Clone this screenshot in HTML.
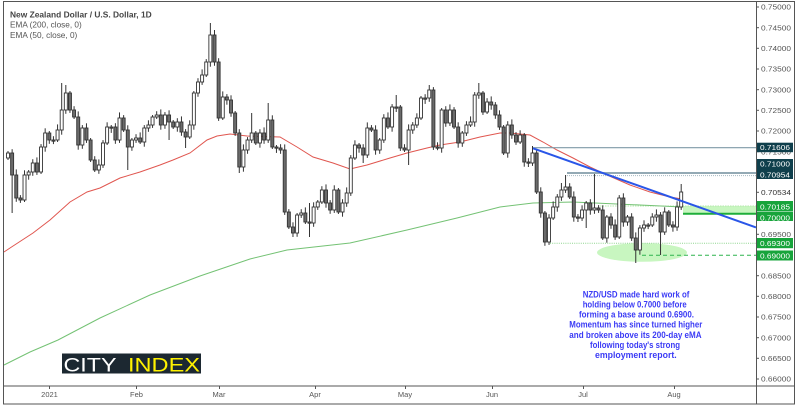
<!DOCTYPE html>
<html><head><meta charset="utf-8">
<style>
html,body{margin:0;padding:0;background:#fff;}
svg{display:block;font-family:"Liberation Sans",Arial,sans-serif;}
</style></head><body>
<svg id="c" width="799" height="409" viewBox="0 0 799 409" xmlns="http://www.w3.org/2000/svg">
<rect x="0" y="0" width="799" height="409" fill="#fff"/>

<!-- zones -->
<ellipse cx="642" cy="252.5" rx="45" ry="9.3" fill="#c8f6c0"/>
<rect x="683" y="206" width="73" height="7.7" fill="#c8f6c0"/>
<line x1="600" y1="206" x2="756" y2="206" stroke="#b4e8ac" stroke-width="1" stroke-dasharray="1.5 1"/>
<line x1="550" y1="243.3" x2="756" y2="243.3" stroke="#8fd68f" stroke-width="1" stroke-dasharray="1 1.2"/>
<line x1="642" y1="255.2" x2="756" y2="255.2" stroke="#2fb44f" stroke-width="1" stroke-dasharray="4 3"/>

<!-- EMAs -->
<polyline fill="none" stroke="#e0564f" stroke-width="1" points="4,252 10,248 33,233 50,220 70,202 87,192 100,188 120,178 140,172 160,165 173,160 190,153 207,140 217,136 230,134 247,136 280,137 297,147 313,157 333,163 350,169 367,165 390,158 407,153 427,148 440,145 460,142 480,137 500,133 510,133 530,135 543,142 557,150 573,158 590,167 607,175 630,185 650,192 670,197 682,199"/>
<polyline fill="none" stroke="#74c274" stroke-width="1" points="4,365 30,352 58,340 100,318 150,295 200,276 250,259 287,250 350,243 407,230 457,218 500,207 533,203 573,202 640,205 682,207"/>

<g id="candles"></g>

<!-- horizontal levels -->
<line x1="533" y1="147.7" x2="756" y2="147.7" stroke="#7f9aa7" stroke-width="1.2"/>
<line x1="567" y1="173" x2="756" y2="173" stroke="#93a9b4" stroke-width="2"/>
<line x1="567" y1="175.6" x2="756" y2="175.6" stroke="#a5b7c0" stroke-width="1" stroke-dasharray="1 1"/>
<line x1="683" y1="213.7" x2="756" y2="213.7" stroke="#1fae3a" stroke-width="2"/>
<!-- trendline -->
<line x1="533" y1="148.3" x2="756" y2="227.4" stroke="#2a56e8" stroke-width="2"/>

<!-- frame -->
<rect x="3.5" y="1.5" width="791" height="402.5" fill="none" stroke="#555" stroke-width="1"/>
<line x1="756.5" y1="1.5" x2="756.5" y2="404" stroke="#555" stroke-width="1"/>
<line x1="3.5" y1="386" x2="794.5" y2="386" stroke="#555" stroke-width="1"/>

<g id="yaxis" font-size="7.5" fill="#555"></g>

<!-- x axis -->
<g stroke="#555" stroke-width="1">
<line x1="49.5" y1="386" x2="49.5" y2="389"/>
<line x1="136.5" y1="386" x2="136.5" y2="389"/>
<line x1="219.5" y1="386" x2="219.5" y2="389"/>
<line x1="315.5" y1="386" x2="315.5" y2="389"/>
<line x1="405.5" y1="386" x2="405.5" y2="389"/>
<line x1="492.5" y1="386" x2="492.5" y2="389"/>
<line x1="583.5" y1="386" x2="583.5" y2="389"/>
<line x1="674.5" y1="386" x2="674.5" y2="389"/>
</g>
<g font-size="7.5" fill="#555" text-anchor="middle">
<text x="49.5" y="397">2021</text>
<text x="136.5" y="397">Feb</text>
<text x="219" y="397">Mar</text>
<text x="315" y="397">Apr</text>
<text x="405" y="397">May</text>
<text x="492" y="397">Jun</text>
<text x="583" y="397">Jul</text>
<text x="674" y="397">Aug</text>
</g>

<!-- price label boxes -->
<g>
<rect x="757" y="142.7" width="36" height="9.5" fill="#0f3f4c"/>
<rect x="757" y="159" width="36" height="10.5" fill="#0f3f4c"/>
<rect x="757" y="169.5" width="36" height="9.5" fill="#0f3f4c"/>
<rect x="757" y="201" width="36" height="10" fill="#17a43b"/>
<rect x="757" y="211.5" width="36" height="9.5" fill="#17a43b"/>
<rect x="757" y="238" width="36" height="10.2" fill="#17a43b"/>
<rect x="757" y="250.5" width="36" height="10" fill="#17a43b"/>
</g>
<g font-size="7.5" fill="#fff">
<text x="760" y="150.2" textLength="30" lengthAdjust="spacingAndGlyphs">0.71606</text>
<text x="760" y="166.7" textLength="30" lengthAdjust="spacingAndGlyphs">0.71000</text>
<text x="760" y="177.7" textLength="30" lengthAdjust="spacingAndGlyphs">0.70954</text>
<text x="760" y="209.4" textLength="30" lengthAdjust="spacingAndGlyphs">0.70185</text>
<text x="760" y="220.4" textLength="30" lengthAdjust="spacingAndGlyphs">0.70000</text>
<text x="760" y="246" textLength="30" lengthAdjust="spacingAndGlyphs">0.69300</text>
<text x="760" y="258.4" textLength="30" lengthAdjust="spacingAndGlyphs">0.69000</text>
</g>
<line x1="756" y1="192.3" x2="759" y2="192.3" stroke="#555"/>
<text x="761" y="195" font-size="7.5" fill="#333" textLength="30" lengthAdjust="spacingAndGlyphs">0.70534</text>

<!-- legend -->
<text x="10" y="17.3" font-size="8.5" font-weight="bold" fill="#444" textLength="141.7" lengthAdjust="spacingAndGlyphs">New Zealand Dollar / U.S. Dollar, 1D</text>
<text x="10" y="27.5" font-size="8.5" fill="#555" textLength="71.7" lengthAdjust="spacingAndGlyphs">EMA (200, close, 0)</text>
<text x="10" y="37.9" font-size="8.5" fill="#555" textLength="67.3" lengthAdjust="spacingAndGlyphs">EMA (50, close, 0)</text>

<!-- annotation -->
<g font-size="8.8" font-weight="bold" fill="#3b3bf5" lengthAdjust="spacingAndGlyphs">
<text x="582.7" y="297.4" textLength="106.7" lengthAdjust="spacingAndGlyphs">NZD/USD made hard work of</text>
<text x="582.7" y="307.5" textLength="104" lengthAdjust="spacingAndGlyphs">holding below 0.7000 before</text>
<text x="579" y="317.6" textLength="115" lengthAdjust="spacingAndGlyphs">forming a base around 0.6900.</text>
<text x="569.3" y="327.7" textLength="133" lengthAdjust="spacingAndGlyphs">Momentum has since turned higher</text>
<text x="569.3" y="337.8" textLength="132.3" lengthAdjust="spacingAndGlyphs">and broken above its 200-day eMA</text>
<text x="590" y="347.9" textLength="90" lengthAdjust="spacingAndGlyphs">following today's strong</text>
<text x="595" y="358" textLength="81.7" lengthAdjust="spacingAndGlyphs">employment report.</text>
</g>

<!-- logo -->
<rect x="62" y="353.5" width="139" height="20" fill="#1c2831"/>
<text x="63.5" y="371.5" font-size="19" fill="#ffffff" textLength="53" lengthAdjust="spacingAndGlyphs">CITY</text>
<text x="128" y="371.5" font-size="19" fill="#fff200" textLength="72" lengthAdjust="spacingAndGlyphs">INDEX</text>
</svg>
<script>
(function(){
var NS="http://www.w3.org/2000/svg";
var C=[153,175,198,200,175,172,163,172,147,133,140,140,130,110,93,110,117,145,128,140,160,170,165,143,127,127,140,118,130,147,140,138,142,128,125,117,115,125,115,122,127,122,132,137,125,93,82,75,62,35,62,118,97,100,113,133,167,150,140,133,143,133,140,120,147,148,150,212,227,233,215,213,222,223,207,202,190,203,210,190,212,203,193,158,145,148,155,128,130,150,140,118,127,107,107,148,150,130,125,118,98,98,90,147,148,110,123,110,127,143,133,125,122,95,93,112,102,105,115,127,153,125,135,142,135,162,163,153,192,213,242,218,207,197,190,187,197,217,218,210,203,210,208,210,238,217,225,237,198,222,217,238,250,228,225,225,217,215,232,212,225,227,207,192];
var H={1:[null,213],13:[83,null],14:[85,null],21:[null,172],29:[null,170],39:[null,140],43:[null,148],49:[23,null],50:[30,null],56:[null,173],59:[113,null],63:[103,null],69:[null,237],73:[203,237],86:[null,163],94:[95,null],97:[null,165],102:[85,null],114:[83,null],127:[146,null],134:[183,null],135:[175,null],140:[null,228],142:[172,null],152:[null,263],158:[null,255],163:[184,null]};
var g=document.getElementById("candles");
var s="";
for(var i=0;i<C.length;i++){
  var x=(8+i*4.13);
  var o=i===0?158:C[i-1], c=C[i];
  var top=Math.min(o,c), bot=Math.max(o,c);
  if(bot-top<1.2){bot=top+1.2;}
  var hi=top-(2+((i*7)%5)*0.9), lo=bot+(2+((i*3)%4)*0.9);
  if(H[i]){ if(H[i][0]!=null)hi=H[i][0]; if(H[i][1]!=null)lo=H[i][1]; }
  var up=c<o;
  s+='<line x1="'+x.toFixed(2)+'" y1="'+hi+'" x2="'+x.toFixed(2)+'" y2="'+lo+'" stroke="#333" stroke-width="1"/>';
  s+='<rect x="'+(x-1.5).toFixed(2)+'" y="'+top+'" width="3" height="'+(bot-top)+'" fill="'+(up?'#ffffff':'#6b6b6b')+'" stroke="#333" stroke-width="0.9"/>';
}
g.innerHTML=s;
var ya=document.getElementById("yaxis");
var t="";
for(var k=0;k<=18;k++){
  if(k===8||k===9||k===10||k===12)continue;
  var v=(0.75-0.005*k).toFixed(5);
  var y=7+k*20.667;
  t+='<line x1="756" y1="'+y.toFixed(1)+'" x2="759" y2="'+y.toFixed(1)+'" stroke="#555" stroke-width="1"/>';
  t+='<text x="761" y="'+(y+2.7).toFixed(1)+'" textLength="30" lengthAdjust="spacingAndGlyphs">'+v+'</text>';
}
ya.innerHTML=t;
})();
</script>
</body></html>
